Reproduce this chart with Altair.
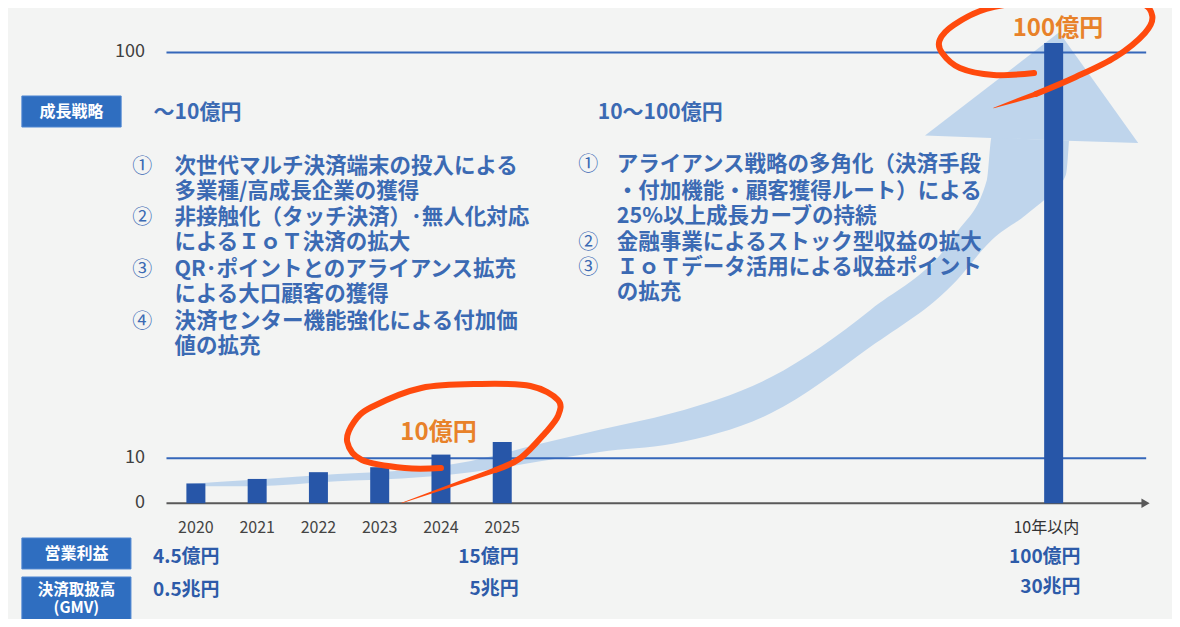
import altair as alt
import pandas as pd

# ---------------- data ----------------
years = [2020, 2021, 2022, 2023, 2024, 2025, 2034]          # 2034 = "10年以内"
profit = [4.4, 5.4, 6.9, 8.0, 10.8, 13.6, 102.1]            # 営業利益 (億円)
x_labels = ["2020", "2021", "2022", "2023", "2024", "2025", "10年以内"]
y_ticks = [0, 10, 100]
grid_values = [10, 100]

left_head = "～10億円"
right_head = "10～100億円"
left_nums = ["①", "②", "③", "④"]
left_num_rows = [0, 2, 4, 6]
left_lines = [
    "次世代マルチ決済端末の投入による",
    "多業種/高成長企業の獲得",
    "非接触化（タッチ決済）･無人化対応",
    "によるＩｏＴ決済の拡大",
    "QR･ポイントとのアライアンス拡充",
    "による大口顧客の獲得",
    "決済センター機能強化による付加価",
    "値の拡充",
]
left_line_y = [74.6, 69.1, 63.3, 57.7, 51.8, 46.2, 40.2, 34.7]
right_nums = ["①", "②", "③"]
right_num_rows = [0, 3, 4]
right_lines = [
    "アライアンス戦略の多角化（決済手段",
    "・付加機能・顧客獲得ルート）による",
    "25%以上成長カーブの持続",
    "金融事業によるストック型収益の拡大",
    "ＩｏＴデータ活用による収益ポイント",
    "の拡充",
]
right_line_y = [75.0, 69.1, 63.5, 57.7, 52.2, 46.7]

profit_labels = ["4.5億円", "15億円", "100億円"]
gmv_labels = ["0.5兆円", "5兆円", "30兆円"]
callouts = ["10億円", "100億円"]

# decoration (in data units: x = year, y = 億円)
arrow_x = [2019.88, 2020.93, 2022.31, 2023.36, 2024.49, 2025.62, 2026.59, 2027.78,
           2029.39, 2031.01, 2032.42, 2032.91, 2032.99, 2033.55, 2034.04, 2034.20, 2034.25]
arrow_top = [4.3, 5.2, 6.5, 7.3, 9.4, 13.2, 16.3, 20.0,
             28.0, 42.9, 60.0, 71.7, 81.3, 80.8, 80.6, 80.5, 80.4]
arrow_bot = [3.8, 3.8, 4.9, 5.5, 6.9, 9.3, 11.4, 13.2,
             20.0, 34.7, 49.5, 57.3, 58.4, 64.0, 70.0, 72.9, 80.4]
head_x = [2031.90, 2034.09, 2035.38]
head_top = [81.6, 104.5, 79.9]
head_bot = [81.6, 80.5, 79.9]

ell1_x = [2024.00, 2023.41, 2022.71, 2022.47, 2022.58, 2022.87, 2023.68, 2024.65,
          2025.46, 2025.91, 2025.91, 2025.70, 2025.30, 2024.89]
ell1_y = [7.83, 7.83, 9.61, 13.60, 18.03, 21.36, 25.58, 26.46,
          26.02, 22.91, 19.37, 15.59, 10.05, 7.39]
tail1_x = [2024.89, 2023.36]
tail1_y = [7.39, 0.07]

ell2_x = [2033.68, 2033.02, 2032.47, 2032.18, 2032.14, 2032.37, 2032.90, 2033.71,
          2034.68, 2035.41, 2035.61, 2035.49, 2035.01, 2034.36, 2033.71]
ell2_y = [95.45, 95.01, 96.56, 99.89, 102.77, 106.10, 109.65, 111.42,
          111.87, 110.98, 108.10, 104.33, 99.00, 94.57, 90.79]
tail2_x = [2033.71, 2033.02]
tail2_y = [90.79, 87.69]

# ---------------- styles ----------------
FONT = "Noto Sans CJK JP"
BG = "#f3f4f3"
BAR = "#2756a8"
LINE_BLUE = "#3567ba"
TEXT_BLUE = "#3b6ab3"
DARK_BLUE = "#2d5ba9"
ORANGE = "#e8822a"
RED = "#ff4a0d"
ARROW = "#bfd5ec"
BOX = "#2f6ec0"

X_DOMAIN = [2017.015, 2035.85]
Y_DOMAIN = [-25.67, 109.87]


def X(field="x"):
    return alt.X(f"{field}:Q", scale=alt.Scale(domain=X_DOMAIN, nice=False, zero=False), axis=None)


def Y(field="y"):
    return alt.Y(f"{field}:Q", scale=alt.Scale(domain=Y_DOMAIN, nice=False, zero=False), axis=None)


def text_layer(df, size, color, weight="bold", align="left"):
    return alt.Chart(df).mark_text(
        font=FONT, fontSize=size, fontWeight=weight, color=color,
        align=align, baseline="middle"
    ).encode(x=X(), y=Y(), text="t:N")


layers = []

# big light-blue growth arrow
layers.append(alt.Chart(pd.DataFrame({"x": arrow_x, "y": arrow_top, "y2": arrow_bot}))
              .mark_area(color=ARROW, interpolate="monotone")
              .encode(x=X(), y=Y(), y2="y2:Q"))
layers.append(alt.Chart(pd.DataFrame({"x": head_x, "y": head_top, "y2": head_bot}))
              .mark_area(color=ARROW, interpolate="linear")
              .encode(x=X(), y=Y(), y2="y2:Q"))

# grid lines at 10 and 100
layers.append(alt.Chart(pd.DataFrame({"y": grid_values, "x": [2019.52] * 2, "x2": [2035.51] * 2}))
              .mark_rule(color=LINE_BLUE, strokeWidth=2)
              .encode(x=X(), x2="x2:Q", y=Y()))

# baseline with arrow
layers.append(alt.Chart(pd.DataFrame({"y": [0], "x": [2019.52], "x2": [2035.45]}))
              .mark_rule(color="#595959", strokeWidth=2)
              .encode(x=X(), x2="x2:Q", y=Y()))
layers.append(alt.Chart(pd.DataFrame({"y": [0], "x": [2035.5]}))
              .mark_point(shape="triangle-right", filled=True, size=90, color="#595959", opacity=1)
              .encode(x=X(), y=Y()))

# bars
layers.append(alt.Chart(pd.DataFrame({"x": years, "y": profit, "y2": [0] * len(years)}))
              .mark_bar(size=19, color=BAR)
              .encode(x=X(), y=Y(), y2="y2:Q"))

# y tick labels
layers.append(text_layer(pd.DataFrame({"x": [2019.17] * 3, "y": y_ticks, "t": [str(v) for v in y_ticks]}),
                         18, "#404040", weight="normal", align="right"))
# x labels
layers.append(text_layer(pd.DataFrame({"x": years[:6], "y": [-5.5] * 6, "t": x_labels[:6]}),
                         16, "#444444", weight="normal", align="center"))
layers.append(text_layer(pd.DataFrame({"x": [2033.88], "y": [-5.5], "t": [x_labels[6]]}),
                         16, "#333333", weight="normal", align="center"))

# header boxes
boxes = pd.DataFrame({
    "x": [2017.16, 2017.16, 2017.16], "x2": [2018.78, 2018.94, 2018.94],
    "y": [90.35, -7.70, -16.35], "y2": [83.47, -14.57, -27.0],
})
layers.append(alt.Chart(boxes).mark_rect(color=BOX, stroke="#4f86d2", strokeWidth=1)
              .encode(x=X(), x2="x2:Q", y=Y(), y2="y2:Q"))
layers.append(text_layer(pd.DataFrame({
    "x": [2017.97, 2018.05],
    "y": [86.91, -11.14],
    "t": ["成長戦略", "営業利益"]}), 16, "white", align="center"))
layers.append(text_layer(pd.DataFrame({
    "x": [2018.05, 2018.05],
    "y": [-19.3, -23.2],
    "t": ["決済取扱高", "(GMV)"]}), 15.5, "white", align="center"))

# section headings
layers.append(text_layer(pd.DataFrame({"x": [2019.31, 2026.56], "y": [86.58, 86.58],
                                       "t": [left_head, right_head]}), 21, TEXT_BLUE))

# strategy lists
layers.append(text_layer(pd.DataFrame({"x": [2018.96] * 4, "y": [left_line_y[r] for r in left_num_rows],
                                       "t": left_nums}), 20, TEXT_BLUE, weight="normal"))
layers.append(text_layer(pd.DataFrame({"x": [2019.65] * len(left_lines), "y": left_line_y,
                                       "t": left_lines}), 21.5, TEXT_BLUE))
layers.append(text_layer(pd.DataFrame({"x": [2026.24] * 3, "y": [right_line_y[r] for r in right_num_rows],
                                       "t": right_nums}), 20, TEXT_BLUE, weight="normal"))
layers.append(text_layer(pd.DataFrame({"x": [2026.87] * len(right_lines), "y": right_line_y,
                                       "t": right_lines}), 21.5, TEXT_BLUE))

# bottom values
layers.append(text_layer(pd.DataFrame({"x": [2019.30, 2019.30], "y": [-11.91, -19.23],
                                       "t": [profit_labels[0], gmv_labels[0]]}), 19, DARK_BLUE))
layers.append(text_layer(pd.DataFrame({"x": [2025.27, 2025.27, 2034.44, 2034.44],
                                       "y": [-11.91, -19.0, -11.91, -18.6],
                                       "t": [profit_labels[1], gmv_labels[1], profit_labels[2], gmv_labels[2]]}),
                         19, DARK_BLUE, align="right"))

# orange call-outs
layers.append(text_layer(pd.DataFrame({"x": [2023.96, 2034.07], "y": [15.59, 105.21], "t": callouts}),
                         24, ORANGE, align="center"))

# hand-drawn red ellipses
for ex, ey, tx, ty in [(ell1_x, ell1_y, tail1_x, tail1_y), (ell2_x, ell2_y, tail2_x, tail2_y)]:
    layers.append(alt.Chart(pd.DataFrame({"x": ex, "y": ey, "i": list(range(len(ex)))}))
                  .mark_line(color=RED, strokeWidth=6, interpolate="cardinal", strokeCap="round")
                  .encode(x=X(), y=Y(), order="i:Q"))
    layers.append(alt.Chart(pd.DataFrame({"x": tx, "y": ty, "i": [0, 1], "w": [5.5, 0.6]}))
                  .mark_trail(color=RED)
                  .encode(x=X(), y=Y(), order="i:Q",
                          size=alt.Size("w:Q", scale=alt.Scale(domain=[0, 6], range=[0, 6]), legend=None)))

chart = alt.layer(*layers).properties(
    width=1164, height=611,
    autosize=alt.AutoSizeParams(type="none"),
    padding=0,
    background=BG,
).configure_view(stroke=None)

chart.save("out.html", embed_options={"renderer": "svg", "actions": False})
